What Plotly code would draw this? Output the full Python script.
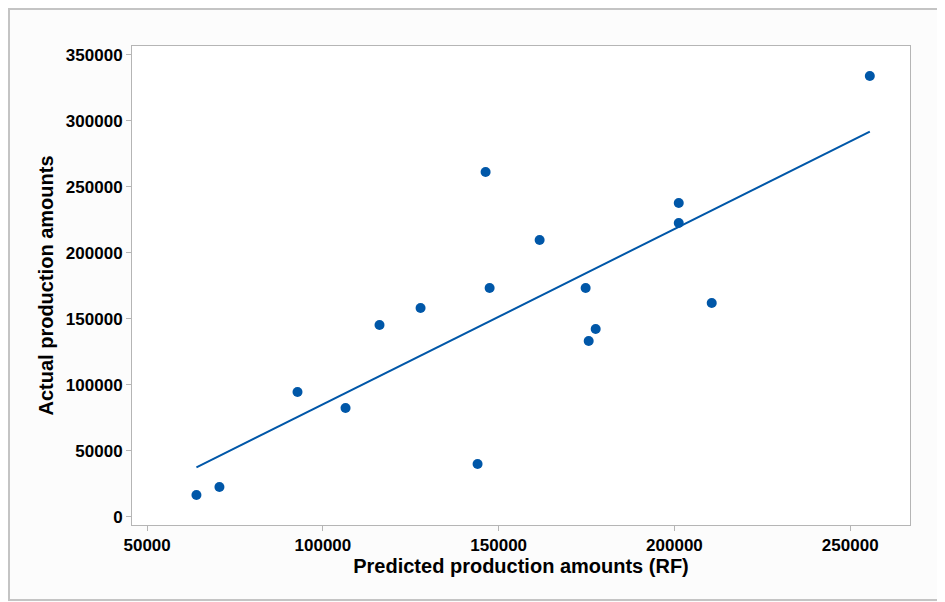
import numpy as np
import plotly.graph_objects as go

predicted = [64030, 70570, 92780, 106440, 116110, 127780, 144000, 146280, 147420,
             161650, 174740, 175600, 177590, 201220, 201220, 210600, 255570]
actual = [16440, 22500, 94470, 82350, 145230, 158110, 39930, 261140, 173260,
          209630, 173260, 133110, 142200, 237660, 222500, 161900, 333870]

x_ticks = [50000, 100000, 150000, 200000, 250000]
y_ticks = [0, 50000, 100000, 150000, 200000, 250000, 300000, 350000]

slope, intercept = np.polyfit(predicted, actual, 1)
fit_x = [min(predicted), max(predicted)]
fit_y = [slope * v + intercept for v in fit_x]

blue = "#0057a8"
font_family = "Liberation Sans, Arial, sans-serif"

W, H = 937, 594
L, R, T, B = 124, 35, 38, 77
pw, ph = W - L - R, H - T - B

fig = go.Figure()
fig.add_trace(go.Scatter(x=fit_x, y=fit_y, mode="lines",
                         line=dict(color=blue, width=2), hoverinfo="skip"))
fig.add_trace(go.Scatter(x=predicted, y=actual, mode="markers",
                         marker=dict(color=blue, size=10)))

axis_common = dict(showline=True, mirror=True, linecolor="#b5b5b5", linewidth=1,
                   showgrid=False, zeroline=False, ticks="outside", ticklen=5,
                   tickcolor="#b5b5b5",
                   tickfont=dict(family=font_family, size=17, color="black", weight="bold"))

fig.update_layout(
    width=W, height=H,
    margin=dict(l=L, r=R, t=T, b=B),
    paper_bgcolor="#fcfcfc", plot_bgcolor="white",
    showlegend=False,
    xaxis=dict(axis_common, range=[45700, 267000], tickvals=x_ticks,
               ticktext=[str(v) for v in x_ticks],
               title=dict(text="Predicted production amounts (RF)", standoff=4,
                          font=dict(family=font_family, size=20, color="black", weight="bold"))),
    yaxis=dict(axis_common, range=[-6300, 356600], tickvals=y_ticks,
               ticktext=[str(v) for v in y_ticks],
               title=dict(text="Actual production amounts", standoff=6,
                          font=dict(family=font_family, size=20, color="black", weight="bold"))),
    shapes=[dict(type="rect", xref="paper", yref="paper",
                 x0=(1 - L) / pw, x1=(W - 5 - L) / pw,
                 y0=(H - B - (H - 2)) / ph, y1=(H - B - 1) / ph,
                 line=dict(color="#c4c4c4", width=2), fillcolor="rgba(0,0,0,0)", layer="below")],
)

fig.write_html("out.html")
